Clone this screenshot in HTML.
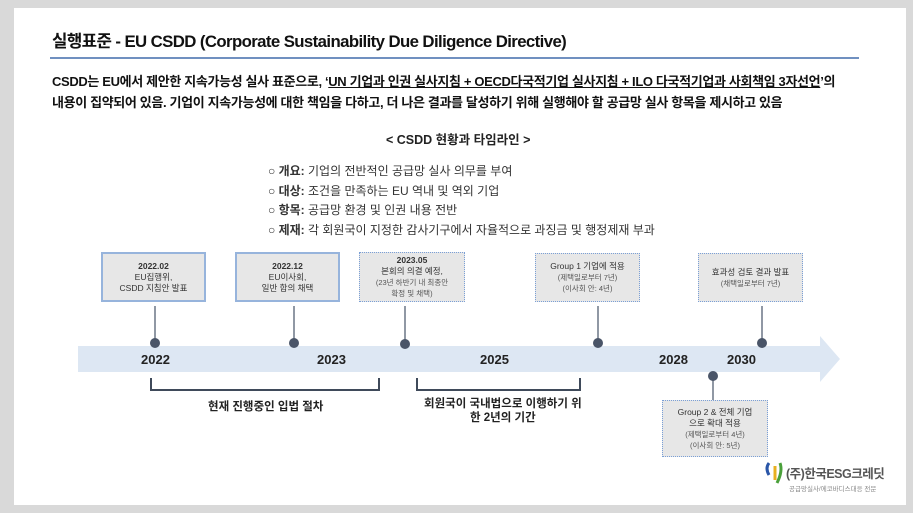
<!DOCTYPE html>
<html><head><meta charset="utf-8"><style>
*{margin:0;padding:0;box-sizing:border-box}
body{width:913px;height:513px;background:#d9d9d9;position:relative;overflow:hidden;font-family:"Liberation Sans","Noto Sans CJK KR",sans-serif;color:#222}
.card{position:absolute;left:14px;top:8px;width:892px;height:497px;background:#fff}
.a{position:absolute;white-space:nowrap}
.box{position:absolute;background:#e7e7e7;text-align:center;font-size:8.5px;line-height:11px;color:#333;display:flex;flex-direction:column;justify-content:center}
.solid{border:2px solid #97b4dc}
.dot{border:1.5px dotted #7a9fd6}
.small{font-size:7.5px;color:#555}
.yr{position:absolute;top:352px;font-size:13px;font-weight:bold;color:#222}
</style></head><body>
<div class="card"></div>
<div class="a" style="left:52px;top:28px;font-size:16.8px;font-weight:bold;letter-spacing:-0.6px;color:#111">실행표준 - EU CSDD (Corporate Sustainability Due Diligence Directive)</div>
<div class="a" style="left:50px;top:57px;width:809px;height:2px;background:#7090c0"></div>
<div class="a" style="left:52px;top:71px;font-size:13px;font-weight:bold;letter-spacing:-0.35px;color:#111">CSDD는 EU에서 제안한 지속가능성 실사 표준으로, ‘<u>UN 기업과 인권 실사지침 + OECD다국적기업 실사지침 + ILO 다국적기업과 사회책임 3자선언</u>’의</div>
<div class="a" style="left:52px;top:92px;font-size:13px;font-weight:bold;letter-spacing:-0.35px;color:#111">내용이 집약되어 있음. 기업이 지속가능성에 대한 책임을 다하고, 더 나은 결과를 달성하기 위해 실행해야 할 공급망 실사 항목을 제시하고 있음</div>
<div class="a" style="left:386px;top:129px;font-size:12.5px;font-weight:bold;color:#222">&lt; CSDD 현황과 타임라인 &gt;</div>
<div class="a" style="left:268px;top:162px;font-size:12px;line-height:19.5px;color:#333">○ <b>개요:</b> 기업의 전반적인 공급망 실사 의무를 부여<br>○ <b>대상:</b> 조건을 만족하는 EU 역내 및 역외 기업<br>○ <b>항목:</b> 공급망 환경 및 인권 내용 전반<br>○ <b>제재:</b> 각 회원국이 지정한 감사기구에서 자율적으로 과징금 및 행정제재 부과</div>

<svg class="a" style="left:0;top:0" width="913" height="513">
<polygon points="78,346 820,346 820,336 840,359 820,382 820,372 78,372" fill="#dde7f3"/>
<g stroke="#6b7585" stroke-width="1.5">
<line x1="155" y1="306" x2="155" y2="343"/><line x1="294" y1="306" x2="294" y2="343"/>
<line x1="405" y1="306" x2="405" y2="343"/><line x1="598" y1="306" x2="598" y2="343"/>
<line x1="762" y1="306" x2="762" y2="343"/><line x1="713" y1="376" x2="713" y2="400"/>
</g>
<g fill="#4a5568">
<circle cx="155" cy="343" r="5"/><circle cx="294" cy="343" r="5"/><circle cx="405" cy="344" r="5"/>
<circle cx="598" cy="343" r="5"/><circle cx="762" cy="343" r="5"/><circle cx="713" cy="376" r="5"/>
</g>
<g stroke="#3f4a5a" stroke-width="2" fill="none">
<polyline points="151,378 151,390 379,390 379,378"/>
<polyline points="417,378 417,390 580,390 580,378"/>
</g>
<path d="M769,463 q-4,5 0,12" stroke="#2a56a8" stroke-width="3" fill="none"/>
<path d="M775,466 l0,14" stroke="#e8b020" stroke-width="3"/>
<path d="M780,463 q3,8 -3,20" stroke="#4aa03a" stroke-width="3" fill="none"/>
</svg>

<div class="yr" style="left:141px">2022</div>
<div class="yr" style="left:317px">2023</div>
<div class="yr" style="left:480px">2025</div>
<div class="yr" style="left:659px">2028</div>
<div class="yr" style="left:727px">2030</div>

<div class="box solid" style="left:101px;top:252px;width:105px;height:50px"><b>2022.02</b>EU집행위,<br>CSDD 지침안 발표</div>
<div class="box solid" style="left:235px;top:252px;width:105px;height:50px"><b>2022.12</b>EU이사회,<br>일반 합의 채택</div>
<div class="box dot" style="left:359px;top:252px;width:106px;height:50px"><b>2023.05</b>본회의 의결 예정,<br><span class="small">(23년 하반기 내 최종안<br>확정 및 채택)</span></div>
<div class="box dot" style="left:535px;top:253px;width:105px;height:49px">Group 1 기업에 적용<span class="small">(제택일로부터 7년)<br>(이사회 안: 4년)</span></div>
<div class="box dot" style="left:698px;top:253px;width:105px;height:49px">효과성 검토 결과 발표<span class="small">(채택일로부터 7년)</span></div>
<div class="box dot" style="left:662px;top:400px;width:106px;height:57px">Group 2 &amp; 전체 기업<br>으로 확대 적용<span class="small">(제택일로부터 4년)<br>(이사회 안: 5년)</span></div>

<div class="a" style="left:208px;top:398px;font-size:11.5px;font-weight:bold;color:#222">현재 진행중인 입법 절차</div>
<div class="a" style="left:424px;top:397px;font-size:11.5px;font-weight:bold;color:#222;text-align:center;line-height:14px">회원국이 국내법으로 이행하기 위<br>한 2년의 기간</div>

<div class="a" style="left:786px;top:463px;font-size:12.5px;font-weight:bold;color:#555;letter-spacing:-0.5px">(주)한국ESG크레딧</div>
<div class="a" style="left:789px;top:483px;font-size:6.5px;color:#888">공급망실사/에코바디스대응 전문</div>
</body></html>
